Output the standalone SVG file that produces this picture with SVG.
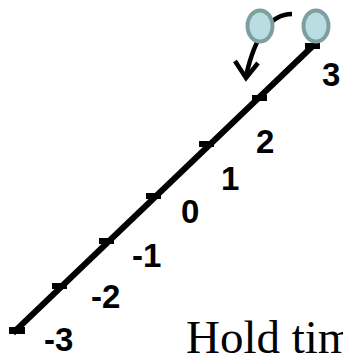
<svg xmlns="http://www.w3.org/2000/svg" width="343" height="354" viewBox="0 0 343 354">
<style>
.lbl{font-family:"Liberation Sans",Arial,sans-serif;font-weight:bold;font-size:33px;fill:#000}
.tick{fill:#000}
.ball{fill:#b9dde0;stroke:#7d9f9f;stroke-width:4}
</style>
<rect width="343" height="354" fill="#fff"/>
<g id="connectors">
<line x1="13" y1="333" x2="317" y2="42" stroke="#000" stroke-width="6"/>
<path d="M292,14 C272,14 256,32 246,76" fill="none" stroke="#000" stroke-width="4.5"/>
<polyline points="235,61 246,78 258,63" fill="none" stroke="#000" stroke-width="4.5"/>
</g>
<g id="ticks">
<rect class="tick" x="9" y="327" width="16" height="7"/>
<rect class="tick" x="52" y="283" width="15" height="6"/>
<rect class="tick" x="99" y="238" width="15" height="6"/>
<rect class="tick" x="146" y="193" width="15" height="6"/>
<rect class="tick" x="199" y="141" width="15" height="6"/>
<rect class="tick" x="252" y="95" width="15" height="6"/>
<rect class="tick" x="305" y="43" width="15" height="6"/>
</g>
<g id="labels">
<text class="lbl" x="44" y="351">-3</text>
<text class="lbl" x="91" y="308">-2</text>
<text class="lbl" x="132" y="267">-1</text>
<text class="lbl" x="181" y="223">0</text>
<text class="lbl" x="221" y="190">1</text>
<text class="lbl" x="256" y="153">2</text>
<text class="lbl" x="322" y="86">3</text>
</g>
<g id="ball-left"><ellipse class="ball" cx="260" cy="26" rx="12.5" ry="15.5"/></g>
<g id="ball-right"><ellipse class="ball" cx="316" cy="26" rx="12.5" ry="15.5"/></g>
<g id="caption"><text x="186" y="353" font-family="'Liberation Serif','Times New Roman',serif" font-size="47" fill="#000">Hold tim</text></g>
</svg>
